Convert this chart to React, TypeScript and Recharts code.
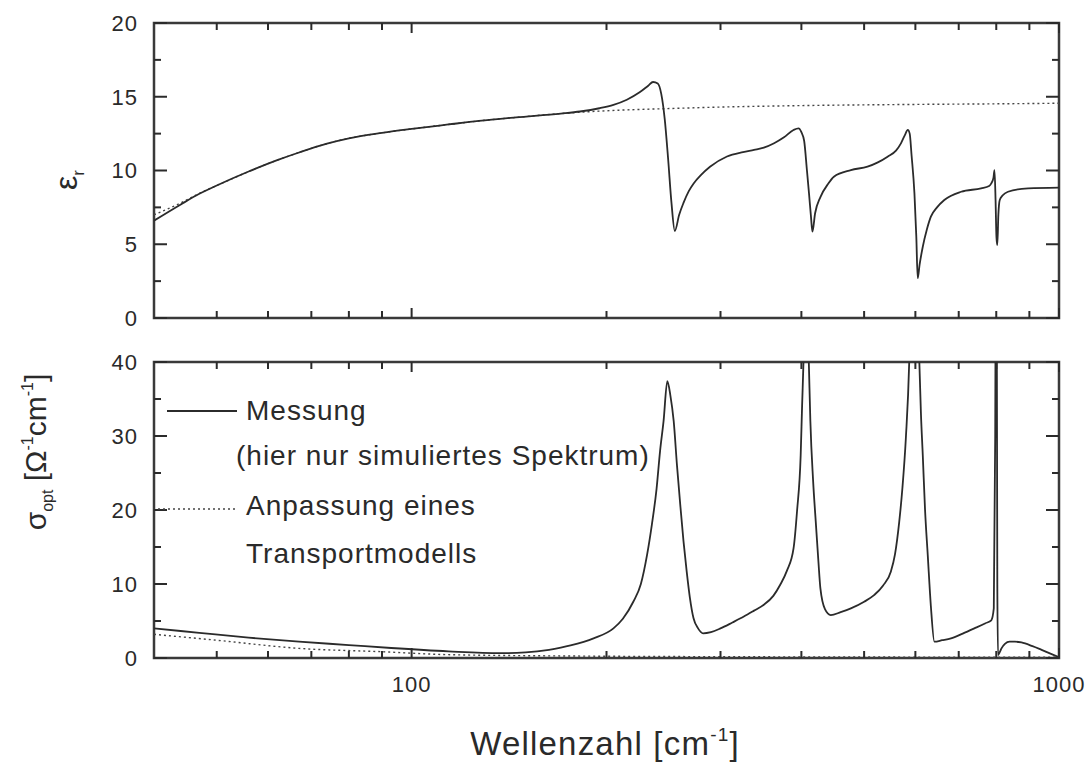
import { LineChart, Line, XAxis, YAxis, ReferenceArea } from "recharts";

// wavenumber [cm^-1] vs. dielectric function / optical conductivity
const epsMeasured: [number, number][] = [
  [40, 6.6], [44, 7.7], [47, 8.42], [50, 8.98], [56, 9.93], [62, 10.7], [67, 11.22],
  [74, 11.82], [80, 12.18], [90, 12.55], [100, 12.82], [114, 13.12], [127, 13.36],
  [145, 13.6], [170, 13.86], [182, 14.0], [195, 14.22], [205, 14.45],
  [215, 14.8], [225, 15.3], [232, 15.75], [236, 16.0], [240, 15.9], [243, 15.2],
  [246, 13.5], [249, 10.8], [252, 7.8], [255, 5.9], [259, 7.0], [263, 7.8],
  [268, 8.6], [272.5, 9.1], [280, 9.7], [289, 10.25], [307, 10.95], [325, 11.25],
  [338, 11.4], [350, 11.55], [363, 11.85], [376, 12.25], [389, 12.75], [396, 12.86],
  [400, 12.6], [404, 12.0], [408, 10.0], [411, 8.45], [414, 6.8], [416, 5.85],
  [420, 7.1], [428, 8.2], [440, 9.1], [449, 9.58], [477, 10.03], [506, 10.26],
  [525, 10.55], [543.5, 10.94], [560, 11.35], [570, 11.84], [578, 12.4], [584, 12.75],
  [588, 12.5], [592, 11.0], [598, 8.45], [602, 5.5], [605, 2.7], [609, 3.6],
  [616, 4.83], [625, 6.0], [634, 6.87], [648, 7.5], [665, 8.0], [706, 8.56],
  [758, 8.79], [780, 8.95], [786, 9.13], [792, 9.5], [795, 10.03], [798, 8.0],
  [800.5, 5.5], [803, 4.95], [806, 7.0], [810, 8.0], [818, 8.3], [834, 8.56],
  [896, 8.79], [1000, 8.84],
];

const epsFit: [number, number][] = [
  [40, 7.0], [44, 7.8], [47, 8.45], [50, 8.98], [56, 9.93], [62, 10.7], [67, 11.22],
  [74, 11.82], [80, 12.18], [90, 12.55], [100, 12.82], [114, 13.12], [127, 13.36],
  [145, 13.6], [170, 13.86], [200, 14.05], [250, 14.2], [300, 14.3], [400, 14.4],
  [600, 14.48], [800, 14.52], [1000, 14.56],
];

const sigmaMeasured: [number, number][] = [
  [40, 4.0], [47, 3.4], [56, 2.75], [67, 2.2], [80, 1.75], [93, 1.35], [114, 0.9],
  [137, 0.65], [150, 0.75], [163, 1.1], [170, 1.4], [176, 1.7], [191, 2.66],
  [205, 4.0], [212, 5.3], [220, 7.6], [226, 10.0], [231, 13.9], [235, 18.0],
  [239, 22.9], [242, 28.0], [245, 32.0], [248.3, 37.4], [251, 35.5], [254, 32.0],
  [257, 26.0], [260, 20.7], [263, 15.8], [266, 11.7], [269, 8.2], [272.5, 5.4],
  [277, 4.0], [282, 3.34], [290, 3.5], [300, 4.0], [313, 4.8], [326, 5.6],
  [338, 6.4], [350, 7.2], [362, 8.4], [371, 9.9], [380, 11.8], [389, 14.8],
  [394, 20.0], [399, 27.4], [401, 34], [403, 40], [405, 48], [407, 52], [409, 46],
  [411, 39], [413, 32], [417, 24], [421, 18.4], [425, 13.0], [428, 9.4], [435, 6.6],
  [444, 5.8], [460, 6.2], [477, 6.7], [500, 7.6], [518, 8.5], [535, 9.8],
  [550, 11.7], [558, 14.0], [566.5, 18.4], [573, 23.0], [580, 29.7], [587, 40],
  [592, 55], [598, 65], [604, 55], [608.5, 40], [612, 33], [616, 27.4], [621, 20],
  [627, 13.9], [634, 7.0], [642, 2.2], [660, 2.4], [681, 2.66], [710, 3.3],
  [740, 4.0], [770, 4.7], [786, 5.1], [793, 6.7], [797, 30], [799, 60], [800, 80],
  [801, 60], [803, 10], [805, 0.4], [810, 0.8], [815, 1.3], [825, 1.9], [839, 2.2],
  [855, 2.2], [875, 2.1], [910, 1.6], [940, 1.1], [970, 0.6], [1000, 0.1],
];

const sigmaFit: [number, number][] = [
  [40, 3.2], [50, 2.4], [67, 1.3], [90, 0.85], [114, 0.45], [175, 0.27],
  [250, 0.2], [400, 0.15], [1000, 0.1],
];

const xTicks = [50, 60, 70, 80, 90, 100, 200, 300, 400, 500, 600, 700, 800, 900, 1000];
const xDecades = [100, 1000];
const epsTicks = [0, 2.5, 5, 7.5, 10, 12.5, 15, 17.5, 20];
const epsLabels = [0, 5, 10, 15, 20];
const sigmaTicks = [0, 5, 10, 15, 20, 25, 30, 35, 40];
const sigmaLabels = [0, 10, 20, 30, 40];

const toPoints = (arr: [number, number][]) => arr.map(([x, y]) => ({ x, y }));

const PL = 154;
const PR = 1059;
const FONT = "'Liberation Sans', Arial, sans-serif";
const INK = "#2b2b2b";

const makeXTick = (top: number, bottom: number, showLabels: boolean) => (props: any) => {
  const { x, payload } = props;
  const v = payload.value;
  const len = xDecades.includes(v) ? 10 : 7;
  return (
    <g>
      <line x1={x} x2={x} y1={bottom} y2={bottom - len} stroke={INK} strokeWidth={2} />
      <line x1={x} x2={x} y1={top} y2={top + len} stroke={INK} strokeWidth={2} />
      {showLabels && xDecades.includes(v) && (
        <text x={x} y={bottom + 34} textAnchor="middle" fontSize={22} letterSpacing={1} fill="#2a2a2a" fontFamily={FONT}>
          {v}
        </text>
      )}
    </g>
  );
};

const makeYTick = (labels: number[]) => (props: any) => {
  const { y, payload } = props;
  const v = payload.value;
  const major = labels.includes(v);
  const len = major ? 13 : 7;
  return (
    <g>
      <line x1={PL} x2={PL + len} y1={y} y2={y} stroke={INK} strokeWidth={2} />
      <line x1={PR} x2={PR - len} y1={y} y2={y} stroke={INK} strokeWidth={2} />
      {major && (
        <text x={PL - 16} y={y} dy="0.36em" textAnchor="end" fontSize={22} letterSpacing={1} fill="#2a2a2a" fontFamily={FONT}>
          {v}
        </text>
      )}
    </g>
  );
};

export default function App() {
  return (
    <div style={{ position: "absolute", left: 0, top: 0, width: 1088, height: 771, background: "#fff", fontFamily: FONT }}>
      <div style={{ position: "absolute", left: 0, top: 0 }}>
        <LineChart width={1088} height={340} margin={{ top: 23, right: 29, bottom: 0, left: 0 }}>
          <XAxis
            dataKey="x"
            type="number"
            scale="log"
            domain={[40, 1000]}
            allowDataOverflow
            ticks={xTicks}
            interval={0}
            height={22}
            axisLine={false}
            tickLine={false}
            tick={makeXTick(23, 318, false)}
          />
          <YAxis
            type="number"
            domain={[0, 20]}
            allowDataOverflow
            ticks={epsTicks}
            interval={0}
            width={154}
            axisLine={false}
            tickLine={false}
            tick={makeYTick(epsLabels)}
          />
          <ReferenceArea x1={40} x2={1000} y1={0} y2={20} fill="none" stroke="#3a3a3a" strokeWidth={2.5} />
          <Line data={toPoints(epsFit)} dataKey="y" type="monotoneX" stroke="#444" strokeWidth={1.4} strokeDasharray="2 3" dot={false} isAnimationActive={false} />
          <Line data={toPoints(epsMeasured)} dataKey="y" type="monotoneX" stroke={INK} strokeWidth={1.8} dot={false} isAnimationActive={false} />
        </LineChart>
      </div>
      <div style={{ position: "absolute", left: 0, top: 340 }}>
        <LineChart width={1088} height={431} margin={{ top: 22, right: 29, bottom: 0, left: 0 }}>
          <XAxis
            dataKey="x"
            type="number"
            scale="log"
            domain={[40, 1000]}
            allowDataOverflow
            ticks={xTicks}
            interval={0}
            height={113}
            axisLine={false}
            tickLine={false}
            tick={makeXTick(22, 318, true)}
          />
          <YAxis
            type="number"
            domain={[0, 40]}
            allowDataOverflow
            ticks={sigmaTicks}
            interval={0}
            width={154}
            axisLine={false}
            tickLine={false}
            tick={makeYTick(sigmaLabels)}
          />
          <ReferenceArea x1={40} x2={1000} y1={0} y2={40} fill="none" stroke="#3a3a3a" strokeWidth={2.5} />
          <Line data={toPoints(sigmaFit)} dataKey="y" type="monotoneX" stroke="#444" strokeWidth={1.4} strokeDasharray="2 3" dot={false} isAnimationActive={false} />
          <Line data={toPoints(sigmaMeasured)} dataKey="y" type="monotoneX" stroke={INK} strokeWidth={1.8} dot={false} isAnimationActive={false} />
        </LineChart>
      </div>
      {/* axis titles and legend */}
      <svg width={1088} height={771} style={{ position: "absolute", left: 0, top: 0, pointerEvents: "none" }} fontFamily={FONT} fill="#2a2a2a">
        <text transform="translate(77,180) rotate(-90)" textAnchor="middle" fontSize={32}>
          ε<tspan fontSize={17} dy={7}>r</tspan>
        </text>
        <text transform="translate(46,452) rotate(-90)" textAnchor="middle" fontSize={30}>
          σ<tspan fontSize={16} dy={7}>opt</tspan>
          <tspan dy={-7}> [Ω</tspan>
          <tspan fontSize={16} dy={-13}>-1</tspan>
          <tspan dy={13}>cm</tspan>
          <tspan fontSize={16} dy={-13}>-1</tspan>
          <tspan dy={13}>]</tspan>
        </text>
        <text x={605} y={755} textAnchor="middle" fontSize={33} letterSpacing={1.2}>
          Wellenzahl [cm<tspan fontSize={19} dy={-14}>-1</tspan>
          <tspan dy={14}>]</tspan>
        </text>

        <line x1={167} x2={237} y1={411} y2={411} stroke={INK} strokeWidth={1.8} />
        <text x={246} y={420} fontSize={28} letterSpacing={1}>Messung</text>
        <text x={236} y={465} fontSize={28} letterSpacing={1}>(hier nur simuliertes Spektrum)</text>
        <line x1={158} x2={236} y1={509} y2={509} stroke="#444" strokeWidth={1.4} strokeDasharray="2 3" />
        <text x={246} y={515} fontSize={28} letterSpacing={1}>Anpassung eines</text>
        <text x={246} y={563} fontSize={28} letterSpacing={1}>Transportmodells</text>
      </svg>
    </div>
  );
}
